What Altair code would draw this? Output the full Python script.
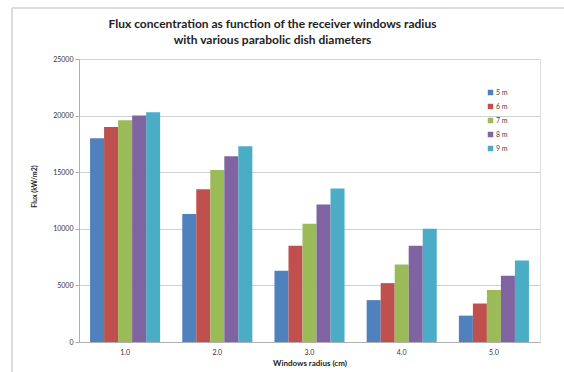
import altair as alt
import pandas as pd

radius = ["1.0", "2.0", "3.0", "4.0", "5.0"]
diameters = ["5 m", "6 m", "7 m", "8 m", "9 m"]
flux_5m = [18000, 11300, 6300, 3700, 2330]
flux_6m = [19000, 13500, 8500, 5200, 3400]
flux_7m = [19600, 15200, 10450, 6850, 4600]
flux_8m = [20000, 16400, 12150, 8500, 5850]
flux_9m = [20300, 17300, 13550, 10000, 7200]
colors = ["#4F81BD", "#C0504D", "#9BBB59", "#8064A2", "#4BACC6"]

series = [flux_5m, flux_6m, flux_7m, flux_8m, flux_9m]
rows = []
for d, vals in zip(diameters, series):
    for r, v in zip(radius, vals):
        rows.append({"radius": r, "diameter": d, "flux": v})
df = pd.DataFrame(rows)

FONT = "Lato"

bars = alt.Chart(df).mark_bar().encode(
    x=alt.X("radius:N", sort=radius,
            scale=alt.Scale(paddingInner=0.24, paddingOuter=0.12),
            axis=alt.Axis(title="Windows radius (cm)", labelAngle=0, ticks=False,
                          labelFontSize=7, labelColor="#333", titleFontSize=8,
                          titleFontWeight="bold", titleColor="#222", titlePadding=4,
                          labelPadding=6, domainColor="#b0b0b0", grid=False)),
    xOffset=alt.XOffset("diameter:N", sort=diameters),
    y=alt.Y("flux:Q", scale=alt.Scale(domain=[0, 25000], nice=False),
            axis=alt.Axis(title="Flux (kW/m2)", values=[0, 5000, 10000, 15000, 20000, 25000],
                          format="d",
                          labelFontSize=7, labelColor="#333", titleFontSize=7,
                          titleFontWeight="bold", titleColor="#222", titlePadding=15,
                          titleY=127,
                          tickSize=4, tickColor="#b0b0b0", domainColor="#b0b0b0",
                          gridColor="#d0d0d0", labelPadding=2)),
    color=alt.Color("diameter:N", sort=diameters,
                    scale=alt.Scale(domain=diameters, range=colors),
                    legend=alt.Legend(title=None, orient="none", legendX=408, legendY=30,
                                      symbolType="square", symbolSize=30,
                                      symbolStrokeWidth=0, labelFontSize=7,
                                      labelColor="#444", rowPadding=6, labelOffset=2)),
)

frame_left = alt.Chart(df).mark_rule(color="#dcdcdc", strokeWidth=2).encode(
    x=alt.value(-67), y=alt.value(-51), y2=alt.value(320))
frame_top = alt.Chart(df).mark_rule(color="#dcdcdc", strokeWidth=2).encode(
    x=alt.value(-67), x2=alt.value(490), y=alt.value(-51))

chart = alt.layer(frame_left, frame_top, bars).properties(
    width=461, height=283,
    title=alt.TitleParams(
        ["Flux concentration as function of the receiver windows radius",
         "with various parabolic dish diameters"],
        fontSize=12, font=FONT, fontWeight="bold", color="#222",
        anchor="middle", offset=14, dx=-37, dy=54, lineHeight=16),
    autosize=alt.AutoSizeParams(type="none"),
    padding={"left": 79, "top": 59, "right": 24, "bottom": 30},
).configure_view(stroke=None).configure(font=FONT)

chart.save("out.html", embed_options={"renderer": "svg", "actions": False})
